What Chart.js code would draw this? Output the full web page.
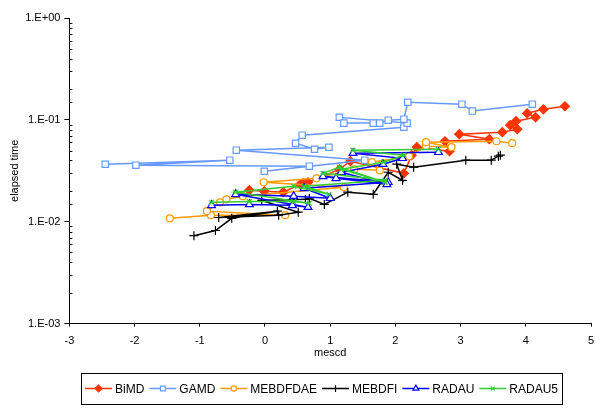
<!DOCTYPE html>
<html><head><meta charset="utf-8">
<script src="https://cdn.jsdelivr.net/npm/chart.js@4.4.1/dist/chart.umd.min.js"></script>
<style>html,body{margin:0;padding:0;background:#fff;}#wrap{width:603px;height:410px;}</style>
</head><body><div id="wrap"><canvas id="c" width="603" height="410"></canvas></div>
<script>
// ---- data ----
const seriesNames = ["BiMD", "GAMD", "MEBDFDAE", "MEBDFI", "RADAU", "RADAU5"];
const xTicks = [-3, -2, -1, 0, 1, 2, 3, 4, 5];
const yTicks = [0.001, 0.01, 0.1, 1];

const bimdX = [-0.24, -0.01, 0.28, 0.54, 0.59, 0.66, 1.14, 1.31, 2.13, 2.25, 2.33, 2.83, 2.76, 3.44, 2.98, 3.64, 3.87, 3.76, 3.85, 4.15, 4.02, 4.27, 4.60];
const bimdY = [0.0204, 0.0199, 0.0195, 0.0233, 0.0239, 0.0244, 0.0327, 0.0393, 0.0299, 0.045, 0.0539, 0.0492, 0.0617, 0.0646, 0.0723, 0.0757, 0.081, 0.0887, 0.097, 0.106, 0.116, 0.127, 0.136];

const gamdX = [-2.45, -0.54, -1.98, 0.68, -0.01, 1.53, -0.44, 0.98, 0.76, 0.47, 0.57, 2.13, 2.18, 1.14, 1.21, 1.66, 1.76, 1.89, 2.13, 2.19, 3.02, 3.18, 4.10];
const gamdY = [0.0367, 0.0402, 0.0359, 0.0351, 0.0313, 0.0402, 0.0504, 0.0539, 0.0515, 0.059, 0.0707, 0.0848, 0.0929, 0.106, 0.0929, 0.0929, 0.0929, 0.0993, 0.1016, 0.149, 0.1426, 0.122, 0.1426];

const mebdfdaeX = [-1.46, -0.83, 0.31, -0.89, -0.69, -0.59, -0.34, 1.21, -0.02, 0.79, 1.37, 1.76, 1.64, 2.21, 2.47, 2.86, 2.47, 3.55, 3.79];
const mebdfdaeY = [0.0108, 0.0116, 0.0116, 0.0127, 0.0155, 0.0166, 0.0178, 0.0218, 0.0244, 0.0267, 0.0327, 0.032, 0.0384, 0.044, 0.0551, 0.0539, 0.0604, 0.0617, 0.059];

const mebdfiX = [-1.09, -0.76, -0.51, 0.19, -0.71, 0.21, 0.51, -0.05, 0.62, 0.68, 0.91, 1.27, 1.66, 1.89, 2.11, 2.02, 2.28, 3.08, 3.47, 3.58, 3.61];
const mebdfiY = [0.0073, 0.0082, 0.0108, 0.0127, 0.011, 0.0116, 0.0124, 0.0162, 0.0166, 0.017, 0.0148, 0.0195, 0.0186, 0.0306, 0.0255, 0.0367, 0.0343, 0.0402, 0.0402, 0.044, 0.045];

const radauX = [-0.82, -0.24, 0.42, 0.66, -0.45, 0.44, 1.0, 0.60, 1.89, 0.89, 1.09, 1.87, 1.17, 1.81, 2.11, 1.35, 2.66];
const radauY = [0.0145, 0.0148, 0.0145, 0.0139, 0.0186, 0.0178, 0.017, 0.0213, 0.0244, 0.0279, 0.0267, 0.0233, 0.0306, 0.0367, 0.042, 0.0471, 0.0481];

const radau5X = [-0.82, -0.24, 0.44, 0.68, -0.45, 0.44, 0.98, 0.60, 1.84, 0.89, 1.14, 1.84, 1.17, 1.82, 2.13, 1.35, 2.66];
const radau5Y = [0.0155, 0.0158, 0.0158, 0.0152, 0.0195, 0.0223, 0.0186, 0.0223, 0.0255, 0.0299, 0.0343, 0.0244, 0.0327, 0.0384, 0.045, 0.0504, 0.0515];

// ---- styles ----
const styles = [
  {color: "#FF3300", point: "rectRot", radius: 4.5, fill: "#FF3300"},
  {color: "#6699FF", point: "rect", radius: 4.5, fill: "#FFFFFF"},
  {color: "#FF9900", point: "circle", radius: 3.5, fill: "#FFFFFF"},
  {color: "#000000", point: "cross", radius: 4.5, fill: "#000000"},
  {color: "#0000FF", point: "triangle", radius: 4.5, fill: "#FFFFFF"},
  {color: "#33CC33", point: "crossRot", radius: 3.5, fill: "#33CC33"}
];
const xsList = [bimdX, gamdX, mebdfdaeX, mebdfiX, radauX, radau5X];
const ysList = [bimdY, gamdY, mebdfdaeY, mebdfiY, radauY, radau5Y];

const FONT = "'Liberation Sans', Arial, sans-serif";

const datasets = seriesNames.map((name, i) => ({
  label: name,
  data: xsList[i].map((x, k) => ({x: x, y: ysList[i][k]})),
  showLine: true,
  borderColor: styles[i].color,
  borderWidth: 1.5,
  pointStyle: styles[i].point,
  pointRadius: styles[i].radius,
  pointBorderColor: styles[i].color,
  pointBackgroundColor: styles[i].fill,
  pointBorderWidth: 1.2,
  order: seriesNames.length - i,
  tension: 0
}));

function isDecade(v) {
  const l = Math.log10(v);
  return Math.abs(l - Math.round(l)) < 1e-6;
}
function fmtExp(v) {
  const e = Math.round(Math.log10(v));
  return "1.E" + (e < 0 ? "-" : "+") + String(Math.abs(e)).padStart(2, "0");
}

const minorTicks = {
  id: "minorTicks",
  afterDraw(chart) {
    const ctx = chart.ctx, y = chart.scales.y, a = chart.chartArea;
    ctx.save();
    ctx.strokeStyle = "#000"; ctx.lineWidth = 1;
    y.ticks.forEach(t => {
      if (isDecade(t.value)) return;
      const py = Math.round(y.getPixelForValue(t.value)) + 0.5;
      ctx.beginPath(); ctx.moveTo(a.left, py); ctx.lineTo(a.left + 3, py); ctx.stroke();
    });
    ctx.restore();
  }
};

const boxLegend = {
  id: "boxLegend",
  afterDraw(chart) {
    const ctx = chart.ctx;
    ctx.save();
    ctx.font = "12px " + FONT;
    ctx.textBaseline = "middle";
    const left = 81, top = 373, h = 31, w = 481, cy = top + h / 2;
    let x = left + 4;
    const items = [];
    seriesNames.forEach((n, i) => {
      const tw = ctx.measureText(n).width;
      items.push({x: x, n: n, i: i, tw: tw});
      x += 30 + tw + 5;
    });
    ctx.fillStyle = "#fff";
    ctx.fillRect(left, top, w, h);
    ctx.strokeStyle = "#000"; ctx.lineWidth = 1;
    ctx.strokeRect(left + 0.5, top + 0.5, w, h);
    items.forEach(it => {
      const s = styles[it.i];
      ctx.strokeStyle = s.color; ctx.lineWidth = 1.5;
      ctx.beginPath(); ctx.moveTo(it.x, cy); ctx.lineTo(it.x + 27, cy); ctx.stroke();
      ctx.fillStyle = s.fill; ctx.strokeStyle = s.color; ctx.lineWidth = 1.2;
      Chart.helpers.drawPoint(ctx, {pointStyle: s.point, radius: s.radius * 0.75, rotation: 0, borderWidth: 1.2}, it.x + 13.5, cy);
      ctx.fillStyle = "#000";
      ctx.fillText(it.n, it.x + 30, cy + 1);
    });
    ctx.restore();
  }
};

new Chart(document.getElementById("c"), {
  type: "scatter",
  data: {datasets: datasets},
  plugins: [minorTicks, boxLegend],
  options: {
    responsive: false,
    animation: false,
    devicePixelRatio: 1,
    layout: {padding: {left: 8, right: 12, top: 18, bottom: 46}},
    plugins: {legend: {display: false}, tooltip: {enabled: false}},
    scales: {
      x: {
        type: "linear", min: xTicks[0], max: xTicks[xTicks.length - 1],
        afterBuildTicks: (s) => { s.ticks = xTicks.map(v => ({value: v})); },
        ticks: {color: "#000", font: {family: FONT, size: 11}, padding: 8, callback: v => String(v)},
        grid: {drawOnChartArea: false, color: "#000", tickLength: 3},
        border: {color: "#000", width: 1},
        title: {display: true, text: "mescd", color: "#000", font: {family: FONT, size: 11}, padding: {top: -9, bottom: 4}}
      },
      y: {
        type: "logarithmic", min: yTicks[0], max: yTicks[yTicks.length - 1],
        ticks: {color: "#000", font: {family: FONT, size: 11}, padding: 4, autoSkip: false,
          callback: v => isDecade(v) ? fmtExp(v) : ""},
        grid: {drawOnChartArea: false, tickLength: 5, color: c => (c.tick && isDecade(c.tick.value)) ? "#000" : "rgba(0,0,0,0)"},
        border: {color: "#000", width: 1},
        title: {display: true, text: "elapsed time", color: "#000", font: {family: FONT, size: 11}, padding: {top: 0, bottom: 0}}
      }
    }
  }
});
</script>
</body></html>
